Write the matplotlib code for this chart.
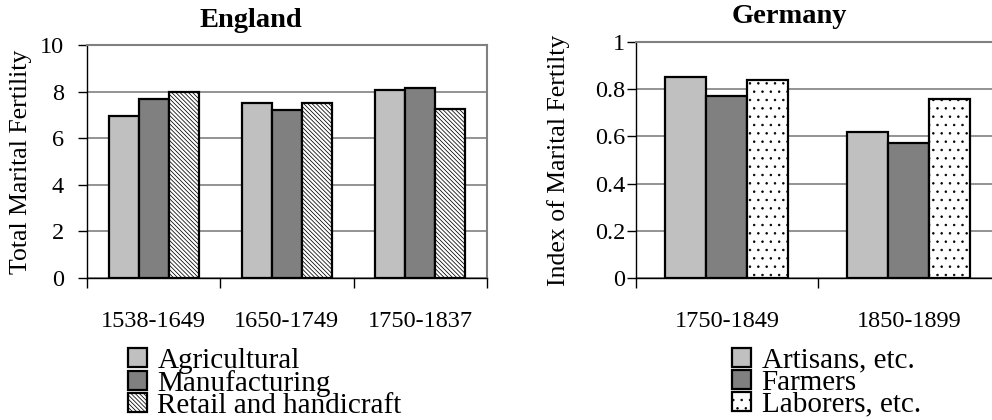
import numpy as np
import matplotlib
matplotlib.use('Agg')
import matplotlib.pyplot as plt
from matplotlib.patches import Patch

plt.rcParams['font.family'] = ['Liberation Serif', 'DejaVu Serif']
plt.rcParams['hatch.linewidth'] = 0.55

# England data
eng_periods = ['1538-1649', '1650-1749', '1750-1837']
eng_series = ['Agricultural', 'Manufacturing', 'Retail and handicraft']
eng_agri = [6.95, 7.5, 8.05]
eng_manu = [7.7, 7.2, 8.15]
eng_retail = [8.0, 7.5, 7.25]

# Germany data
ger_periods = ['1750-1849', '1850-1899']
ger_series = ['Artisans, etc.', 'Farmers', 'Laborers, etc.']
ger_artisans = [0.85, 0.62]
ger_farmers = [0.77, 0.57]
ger_laborers = [0.84, 0.76]

fig = plt.figure(figsize=(9.92, 4.2), dpi=100)
TICK_FS = 17.5
LAB_FS = 18.5
LEG_FS = 21


def draw(ax, periods, series_vals, labels, third_hatch, ymax, yticks, ytl, ylabel, ypad):
    n = len(periods)
    x = np.arange(n)
    w = 0.225
    fills = ['#c0c0c0', '#808080', 'white']
    hatches = [None, None, third_hatch]
    handles = []
    for i, vals in enumerate(series_vals):
        ax.bar(x + (i - 1) * w, vals, w, facecolor=fills[i], edgecolor='black',
               linewidth=1.6, hatch=hatches[i], zorder=3)
        handles.append(Patch(facecolor=fills[i], edgecolor='black', linewidth=1.6,
                             hatch=hatches[i], label=labels[i]))
    ax.set_xlim(-0.5, n - 0.5)
    ax.set_ylim(0, ymax)
    ax.set_yticks(yticks)
    ax.set_yticklabels(ytl, fontsize=TICK_FS)
    ax.yaxis.grid(True, color='#808080', linewidth=1.2, zorder=0)
    ax.set_xticks(np.arange(n + 1) - 0.5)
    ax.set_xticklabels([])
    ax.set_xticks(x, minor=True)
    ax.set_xticklabels(periods, minor=True, fontsize=TICK_FS)
    ax.tick_params(axis='x', which='minor', length=0, pad=24)
    ax.tick_params(axis='x', which='major', length=7, width=1, direction='out')
    ax.tick_params(axis='y', length=6.5, width=1, direction='out', pad=ypad)
    for s in ['top', 'right']:
        ax.spines[s].set_color('#808080')
        ax.spines[s].set_linewidth(1.5)
    for s in ['left', 'bottom']:
        ax.spines[s].set_color('black')
        ax.spines[s].set_linewidth(1.0)
    ax.set_ylabel(ylabel, fontsize=LAB_FS)
    return handles


ax1 = fig.add_axes([0.0877, 0.338, 0.403, 0.555])
h1 = draw(ax1, eng_periods, [eng_agri, eng_manu, eng_retail], eng_series,
          '\\\\\\\\\\\\\\\\', 10, [0, 2, 4, 6, 8, 10], ['0', '2', '4', '6', '8', '10'],
          'Total Marital Fertility', 10)
ax1.yaxis.set_label_coords(-0.138, 0.5)
fig.text(0.253, 0.952, 'England', ha='center', va='center', fontsize=20.5, fontweight='bold')

ax2 = fig.add_axes([0.641, 0.338, 0.367, 0.562])
h2 = draw(ax2, ger_periods, [ger_artisans, ger_farmers, ger_laborers], ger_series,
          '..', 1, [0, 0.2, 0.4, 0.6, 0.8, 1], ['0', '0.2', '0.4', '0.6', '0.8', '1'],
          'Index of Marital Fertilty', 1)
ax2.yaxis.set_label_coords(-0.181, 0.5)
fig.text(0.796, 0.960, 'Germany', ha='center', va='center', fontsize=20.5, fontweight='bold')

leg_kw = dict(loc='upper left', frameon=False, fontsize=LEG_FS, handlelength=0.66,
              handleheight=0.66, labelspacing=-0.14, handletextpad=0.35,
              borderpad=0, borderaxespad=0)
fig.legend(handles=h1, bbox_to_anchor=(0.129, 0.172), **leg_kw)
fig.legend(handles=h2, bbox_to_anchor=(0.738, 0.172), **leg_kw)

fig.savefig('out.png', dpi=100)
